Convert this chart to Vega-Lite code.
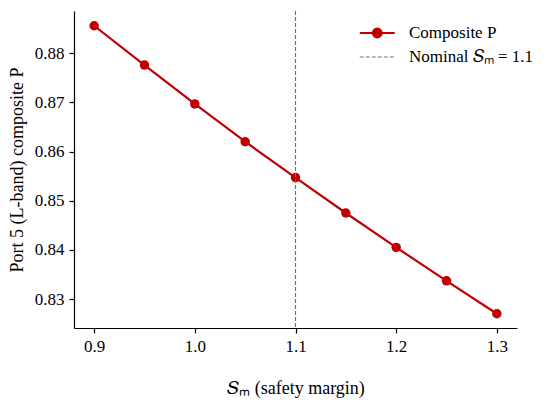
{
  "$schema": "https://vega.github.io/schema/vega-lite/v6.json",
  "autosize": {"type": "none"},
  "width": 443,
  "height": 317,
  "padding": {"left": 74, "top": 11, "right": 33, "bottom": 74},
  "background": "white",
  "datasets": {
    "composite": [
      {"Sm": 0.9, "P": 0.8856, "series": "Composite P"},
      {"Sm": 0.95, "P": 0.8776, "series": "Composite P"},
      {"Sm": 1.0, "P": 0.8697, "series": "Composite P"},
      {"Sm": 1.05, "P": 0.862, "series": "Composite P"},
      {"Sm": 1.1, "P": 0.8547, "series": "Composite P"},
      {"Sm": 1.15, "P": 0.8475, "series": "Composite P"},
      {"Sm": 1.2, "P": 0.8405, "series": "Composite P"},
      {"Sm": 1.25, "P": 0.8337, "series": "Composite P"},
      {"Sm": 1.3, "P": 0.827, "series": "Composite P"}
    ],
    "nominal": [
      {"Sm": 1.1, "series": "Nominal 𝑆ₘ = 1.1"}
    ]
  },
  "layer": [
    {
      "data": {"name": "composite"},
      "mark": {"type": "line", "strokeWidth": 2.2, "point": {"filled": true, "size": 90, "opacity": 1}},
      "encoding": {
        "x": {
          "field": "Sm",
          "type": "quantitative",
          "scale": {"domain": [0.88, 1.32], "nice": false, "zero": false},
          "axis": {"values": [0.9, 1.0, 1.1, 1.2, 1.3], "format": ".1f", "title": "𝑆ₘ (safety margin)", "titlePadding": 25}
        },
        "y": {
          "field": "P",
          "type": "quantitative",
          "scale": {"domain": [0.8241, 0.8886], "nice": false, "zero": false},
          "axis": {"values": [0.83, 0.84, 0.85, 0.86, 0.87, 0.88], "format": ".2f", "title": "Port 5 (L-band) composite P", "titlePadding": 8}
        },
        "color": {"field": "series", "type": "nominal"}
      }
    },
    {
      "data": {"name": "nominal"},
      "mark": {"type": "rule", "strokeDash": [4, 2], "strokeWidth": 1.1},
      "encoding": {
        "x": {"field": "Sm", "type": "quantitative"},
        "color": {"field": "series", "type": "nominal"}
      }
    }
  ],
  "encoding": {
    "color": {
      "field": "series",
      "type": "nominal",
      "scale": {"domain": ["Composite P", "Nominal 𝑆ₘ = 1.1"], "range": ["#c00000", "#707070"]},
      "legend": {
        "title": null,
        "orient": "none",
        "legendX": 286,
        "legendY": 13.5,
        "symbolSize": 306,
        "labelOffset": 32,
        "rowPadding": 5,
        "labelFont": "Liberation Serif",
        "labelFontSize": 17,
        "labelColor": "black",
        "encode": {
          "symbols": {
            "update": {
              "shape": {"signal": "datum.value === 'Composite P' ? 'M-1,0H3M1.5,0A0.5,0.5 0 1,1 0.5,0A0.5,0.5 0 1,1 1.5,0Z' : 'M-1,0H3'"},
              "fill": {"signal": "datum.value === 'Composite P' ? '#c00000' : 'transparent'"},
              "stroke": {"signal": "datum.value === 'Composite P' ? '#c00000' : '#707070'"},
              "strokeWidth": {"signal": "datum.value === 'Composite P' ? 2.2 : 1.1"},
              "strokeDash": {"signal": "datum.value === 'Composite P' ? [] : [4, 2]"},
              "opacity": {"value": 1}
            }
          }
        }
      }
    }
  },
  "config": {
    "font": "Liberation Serif",
    "view": {"stroke": null},
    "axis": {
      "grid": false,
      "domainColor": "black",
      "domainWidth": 1.2,
      "tickColor": "black",
      "tickWidth": 1.2,
      "tickSize": 5,
      "labelPadding": 5,
      "labelFont": "Liberation Serif",
      "labelFontSize": 17,
      "labelColor": "black",
      "titleFont": "Liberation Serif",
      "titleFontSize": 18,
      "titleFontWeight": "normal",
      "titleColor": "black"
    },
    "legend": {
      "labelFont": "Liberation Serif",
      "labelFontSize": 17,
      "labelColor": "black"
    }
  }
}
